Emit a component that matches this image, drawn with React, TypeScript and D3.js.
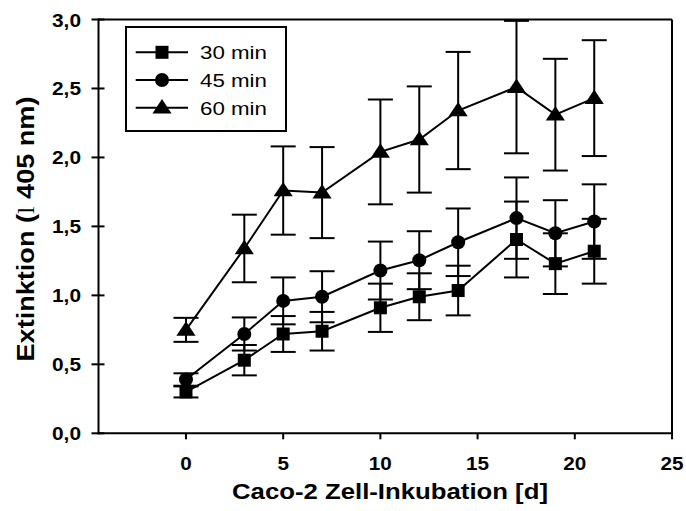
import React from "react";
import * as d3 from "d3";

const days = [0, 3, 5, 7, 10, 12, 14, 17, 19, 21];
const mean30 = [0.3, 0.53, 0.72, 0.74, 0.91, 0.99, 1.035, 1.405, 1.23, 1.32];
const sd30 = [0.04, 0.11, 0.13, 0.14, 0.175, 0.17, 0.18, 0.275, 0.22, 0.235];
const mean45 = [0.39, 0.72, 0.96, 0.99, 1.18, 1.255, 1.385, 1.56, 1.45, 1.535];
const sd45 = [0.045, 0.12, 0.17, 0.185, 0.21, 0.21, 0.245, 0.295, 0.24, 0.27];
const mean60 = [0.75, 1.34, 1.76, 1.745, 2.04, 2.13, 2.34, 2.51, 2.31, 2.43];
const sd60 = [0.087, 0.245, 0.32, 0.33, 0.38, 0.385, 0.425, 0.48, 0.405, 0.42];

const seriesNames = ["30 min", "45 min", "60 min"];
const seriesShapes = ["square", "circle", "triangle"];
const xTicks = [0, 5, 10, 15, 20, 25];
const yTicks = [0, 0.5, 1, 1.5, 2, 2.5, 3];
const xLabel = "Caco-2 Zell-Inkubation [d]";

const W = 686;
const H = 511;
const left = 98.5;
const right = 672;
const top = 19.5;
const bottom = 433.3;

const x = d3.scaleLinear().domain([-4.5, 25]).range([left, right]);
const y = d3.scaleLinear().domain([0, 3]).range([bottom, top]);

const FONT = "'Liberation Sans', Arial, Helvetica, sans-serif";

function Marker({ shape, cx, cy }: { shape: string; cx: number; cy: number }) {
  if (shape === "square") {
    return <rect x={cx - 6.5} y={cy - 6.5} width={13} height={13} fill="#000" />;
  }
  if (shape === "circle") {
    return <circle cx={cx} cy={cy} r={7} fill="#000" />;
  }
  const sym = d3.symbol().type(d3.symbolTriangle).size(120)();
  return <path d={sym || ""} transform={`translate(${cx},${cy + 1}) scale(1.15,1)`} fill="#000" />;
}

function fmt(v: number) {
  return v.toFixed(1).replace(".", ",");
}

export default function App() {
  const means = [mean30, mean45, mean60];
  const sds = [sd30, sd45, sd60];
  const line = d3
    .line<number>()
    .x((_, i) => x(days[i]))
    .y((d) => y(d));

  const capW = 12.5;

  return (
    <svg
      width={W}
      height={H}
      style={{ position: "absolute", left: 0, top: 0, background: "#fff" }}
      fontFamily={FONT}
    >
      <rect x={0} y={0} width={W} height={H} fill="#fff" />
      {/* frame */}
      <line x1={left} x2={right} y1={top} y2={top} stroke="#000" strokeWidth={2} />
      <line x1={right} x2={right} y1={top} y2={bottom} stroke="#000" strokeWidth={2} />
      <line x1={left} x2={left} y1={top - 1} y2={bottom + 1} stroke="#000" strokeWidth={2} />
      <line x1={left - 1} x2={right + 1} y1={bottom} y2={bottom} stroke="#000" strokeWidth={2} />

      {/* y ticks */}
      {yTicks.map((t) => (
        <g key={"yt" + t}>
          <line x1={left - 7} x2={left + 6} y1={y(t)} y2={y(t)} stroke="#000" strokeWidth={2} />
          <text
            x={81}
            y={y(t) + 7}
            textAnchor="end"
            fontWeight="bold"
            fontSize={18}
            textLength={29}
            lengthAdjust="spacingAndGlyphs"
          >
            {fmt(t)}
          </text>
        </g>
      ))}

      {/* x ticks */}
      {xTicks.map((t) => {
        const s = String(t);
        const tl = s.length * 11.5;
        return (
          <g key={"xt" + t}>
            <line x1={x(t)} x2={x(t)} y1={bottom} y2={bottom + 6} stroke="#000" strokeWidth={2} />
            <text
              x={x(t) - tl / 2}
              y={470}
              fontWeight="bold"
              fontSize={18}
              textLength={tl}
              lengthAdjust="spacingAndGlyphs"
            >
              {s}
            </text>
          </g>
        );
      })}

      {/* axis labels */}
      <text
        x={232}
        y={499}
        fontWeight="bold"
        fontSize={22}
        textLength={316}
        lengthAdjust="spacingAndGlyphs"
      >
        {xLabel}
      </text>
      <g transform="translate(33.5,361.5) rotate(-90)">
        <text fontWeight="bold" fontSize={23} textLength={265} lengthAdjust="spacingAndGlyphs">
          Extinktion (
          <tspan fontFamily="'Liberation Serif', 'Times New Roman', serif" fontWeight="normal">
            l
          </tspan>{" "}
          405 nm)
        </text>
      </g>

      {/* series lines */}
      {means.map((m, si) => (
        <path key={"l" + si} d={line(m) || ""} fill="none" stroke="#000" strokeWidth={2} />
      ))}

      {/* error bars */}
      {means.map((m, si) =>
        m.map((v, i) => {
          const cx = x(days[i]);
          const hi = y(v + sds[si][i]);
          const lo = y(v - sds[si][i]);
          return (
            <g key={`e${si}-${i}`} stroke="#000" strokeWidth={2}>
              <line x1={cx} x2={cx} y1={hi} y2={lo} />
              <line x1={cx - capW} x2={cx + capW} y1={hi} y2={hi} />
              <line x1={cx - capW} x2={cx + capW} y1={lo} y2={lo} />
            </g>
          );
        })
      )}

      {/* markers */}
      {means.map((m, si) =>
        m.map((v, i) => (
          <Marker key={`m${si}-${i}`} shape={seriesShapes[si]} cx={x(days[i])} cy={y(v)} />
        ))
      )}

      {/* legend */}
      <rect x={126} y={27} width={160} height={104} fill="#fff" stroke="#000" strokeWidth={2} />
      {seriesNames.map((name, i) => {
        const ry = 52.3 + i * 27.7;
        return (
          <g key={"lg" + i}>
            <line x1={135.7} x2={188} y1={ry} y2={ry} stroke="#000" strokeWidth={2} />
            <Marker shape={seriesShapes[i]} cx={162} cy={ry} />
            <text
              x={200}
              y={ry + 7}
              fontSize={19}
              textLength={67}
              lengthAdjust="spacingAndGlyphs"
            >
              {name}
            </text>
          </g>
        );
      })}
    </svg>
  );
}
